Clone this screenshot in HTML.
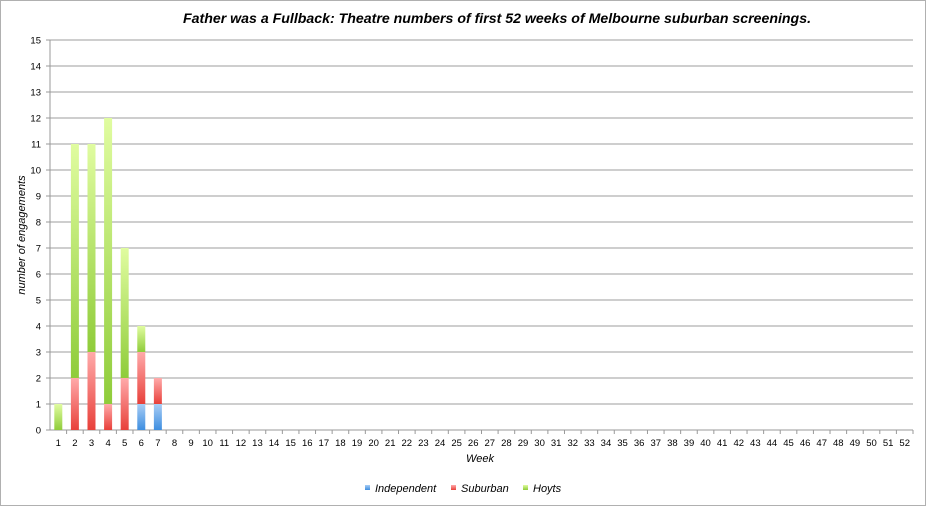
<!DOCTYPE html>
<html><head><meta charset="utf-8"><style>
html,body{margin:0;padding:0;background:#fff;}
svg{display:block;font-family:"Liberation Sans",sans-serif;}
</style></head><body>
<svg id="s" width="927" height="507" viewBox="0 0 927 507" xmlns="http://www.w3.org/2000/svg">
<defs>
<linearGradient id="gH" x1="0" y1="0" x2="0" y2="1"><stop offset="0" stop-color="#e0fca0"/><stop offset="1" stop-color="#8fcc3a"/></linearGradient>
<linearGradient id="gS" x1="0" y1="0" x2="0" y2="1"><stop offset="0" stop-color="#ffaaaa"/><stop offset="1" stop-color="#e8403a"/></linearGradient>
<linearGradient id="gI" x1="0" y1="0" x2="0" y2="1"><stop offset="0" stop-color="#a8cdf5"/><stop offset="1" stop-color="#3e8ee0"/></linearGradient>
</defs>
<rect x="0.5" y="0.5" width="925" height="505" fill="#fff" stroke="#b0b0b0"/>
<text x="497" y="23" text-anchor="middle" font-size="14" font-weight="bold" font-style="italic" fill="#000" textLength="628" lengthAdjust="spacingAndGlyphs">Father was a Fullback: Theatre numbers of first 52 weeks of Melbourne suburban screenings.</text>
<g id="g"></g>
<text x="480" y="462" text-anchor="middle" font-size="11" font-style="italic">Week</text>
<text transform="translate(25,235) rotate(-90)" text-anchor="middle" font-size="11" font-style="italic">number of engagements</text>
<rect x="365" y="485" width="5" height="5" fill="url(#gI)"/><text x="375" y="492" font-size="11" font-style="italic">Independent</text>
<rect x="451" y="485" width="5" height="5" fill="url(#gS)"/><text x="461" y="492" font-size="11" font-style="italic">Suburban</text>
<rect x="523" y="485" width="5" height="5" fill="url(#gH)"/><text x="533" y="492" font-size="11" font-style="italic">Hoyts</text>
</svg>
<script>
var g=document.getElementById('g'),h='';
var L=50,R=913,cw=(R-L)/52;
for(var v=0;v<=15;v++){var y=430-26*v;
 if(v>0)h+='<line x1="'+L+'" x2="'+R+'" y1="'+y+'" y2="'+y+'" stroke="#bdbdbd" stroke-width="1.5"/>';
 h+='<text x="41" y="'+(y+3.5)+'" text-anchor="end" font-size="9.5">'+v+'</text>';
 h+='<line x1="46" x2="'+L+'" y1="'+y+'" y2="'+y+'" stroke="#999"/>';}
h+='<line x1="'+L+'" x2="'+L+'" y1="40" y2="430" stroke="#999"/>';
h+='<line x1="'+L+'" x2="'+R+'" y1="430" y2="430" stroke="#999"/>';
for(var i=1;i<=52;i++){var cx=L+cw*(i-0.5);
 h+='<text x="'+cx+'" y="446" text-anchor="middle" font-size="9.5">'+i+'</text>';
 var tx=L+cw*i;h+='<line x1="'+tx+'" x2="'+tx+'" y1="430" y2="434" stroke="#999"/>';}
var d=[[0,0,1],[0,2,9],[0,3,8],[0,1,11],[0,2,5],[1,2,1],[1,1,0]];
var f=['gI','gS','gH'];
d.forEach(function(a,k){var cx=L+cw*(k+0.5),b=0;
 for(var j=0;j<3;j++){if(a[j]){var y0=430-26*(b+a[j]);
  h+='<rect x="'+(cx-4)+'" y="'+y0+'" width="8" height="'+(26*a[j])+'" fill="url(#'+f[j]+')"/>';b+=a[j];}}});
g.innerHTML=h;
</script>
</body></html>
